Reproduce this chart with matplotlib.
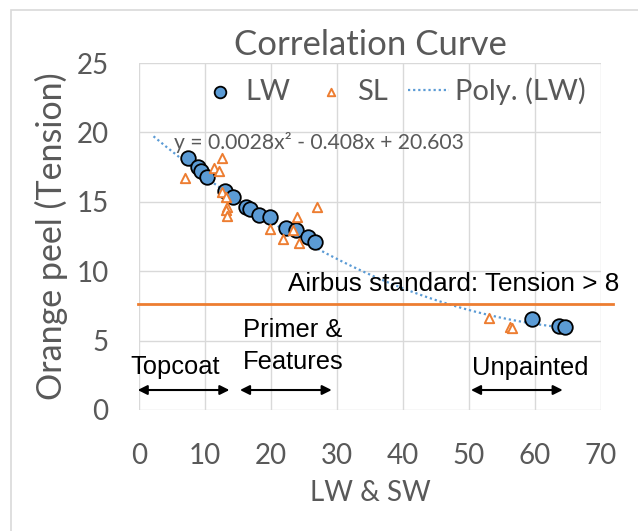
import matplotlib
matplotlib.use("Agg")
import matplotlib.pyplot as plt
import numpy as np
from matplotlib.patches import Rectangle

# ---- data ----
lw_x = [7.45, 8.87, 9.37, 10.33, 13.1, 14.26, 16.28, 16.89, 18.2, 19.8, 22.3, 23.8, 25.6, 26.7,
        59.6, 63.6, 64.5]
lw_y = [18.18, 17.53, 17.24, 16.77, 15.78, 15.37, 14.65, 14.46, 14.05, 13.88, 13.09, 12.97, 12.44, 12.1,
        6.56, 6.07, 5.96]
sl_x = [12.6, 11.4, 12.1, 7.0, 12.5, 13.2, 13.3, 13.2, 13.3, 19.8, 23.9, 23.4, 21.8, 24.2, 26.9,
        53.0, 56.2, 56.5]
sl_y = [18.18, 17.46, 17.24, 16.74, 15.68, 15.32, 14.6, 14.4, 14.0, 13.04, 13.88, 12.97, 12.34, 12.05, 14.65,
        6.6, 6.0, 5.89]
poly_coef = [0.0028, -0.408, 20.603]
trend_range = [2.2, 64.5]
standard_y = 7.64
x_ticks = [0, 10, 20, 30, 40, 50, 60, 70]
y_ticks = [0, 5, 10, 15, 20, 25]

BLUE = "#5B9BD5"
ORANGE = "#ED7D31"
GREY = "#595959"
GRID = "#D9D9D9"
CAL = ["Lato", "DejaVu Sans"]
ARIAL = ["Liberation Sans", "DejaVu Sans"]

fig = plt.figure(figsize=(6.38, 5.31), dpi=100)
# outer chart border
fig.patches.append(Rectangle((11/638, -0.05), 1.0, 1 - 10/531 + 0.05, transform=fig.transFigure,
                             fill=False, edgecolor=GRID, lw=1.2))
ax = fig.add_axes([139/638, 1 - 410/531, (601 - 139)/638, (410 - 63)/531])

ax.set_xlim(0, 70)
ax.set_ylim(0, 25)
ax.set_xticks(x_ticks)
ax.set_yticks(y_ticks)
ax.grid(True, color=GRID, lw=1.0)
ax.set_axisbelow(True)
for s in ax.spines.values():
    s.set_visible(False)
ax.tick_params(length=0, labelcolor=GREY, labelsize=20)
ax.tick_params(axis="x", pad=24)
ax.tick_params(axis="y", pad=22)
for lab in ax.get_xticklabels() + ax.get_yticklabels():
    lab.set_fontfamily(CAL)

# trend line
tx = np.linspace(trend_range[0], trend_range[1], 200)
ty = np.polyval(poly_coef, tx)
ax.plot(tx, ty, linestyle=(0, (1, 1.3)), color=BLUE, lw=1.6, label="Poly. (LW)", zorder=2)

ax.scatter(lw_x, lw_y, s=110, marker="o", facecolor=BLUE, edgecolor="black", linewidths=1.3,
           label="LW", zorder=3)
ax.scatter(sl_x, sl_y, s=45, marker="^", facecolor="white", edgecolor=ORANGE, linewidths=1.4,
           label="SL", zorder=4)

# standard line
ax.plot([-0.2, 71.8], [standard_y, standard_y], color=ORANGE, lw=2, clip_on=False, zorder=2)

# legend
h, l = ax.get_legend_handles_labels()
order = [1, 2, 0]
leg = ax.legend([h[i] for i in order], [l[i] for i in order], ncol=3, loc="center",
                bbox_to_anchor=((392.5 - 139) / 462, 1 - (91 - 63) / 347), frameon=False,
                prop={"family": CAL, "size": 21}, handlelength=1.38, handletextpad=0.2,
                columnspacing=0.7, markerscale=0.8, borderpad=0, borderaxespad=0)
for t in leg.get_texts():
    t.set_color(GREY)

ax.set_title("Correlation Curve", fontfamily=CAL, fontsize=25, color=GREY, pad=6)
ax.set_xlabel("LW & SW", fontfamily=CAL, fontsize=20, color=GREY, labelpad=8)
ax.set_ylabel("Orange peel (Tension)", fontfamily=CAL, fontsize=24.5, color=GREY, labelpad=6)

ax.text(5.25, 18.8, "y = 0.0028x² - 0.408x + 20.603", fontfamily=CAL, fontsize=15.2, color=GREY,
        ha="left", va="baseline")
ax.text(22.6, 8.57, "Airbus standard: Tension > 8", fontfamily=ARIAL, fontsize=18.8, color="black",
        ha="left", va="baseline", clip_on=False)
ax.text(15.7, 5.26, "Primer &", fontfamily=ARIAL, fontsize=18.4, ha="left", va="baseline")
ax.text(15.7, 2.95, "Features", fontfamily=ARIAL, fontsize=18.4, ha="left", va="baseline")
ax.text(5.5, 2.6, "Topcoat", fontfamily=ARIAL, fontsize=18.4, ha="center", va="baseline")
ax.text(59.3, 2.5, "Unpainted", fontfamily=ARIAL, fontsize=18.4, ha="center", va="baseline")

arrow_kw = dict(arrowstyle="<|-|>", color="black", lw=1.5, mutation_scale=14, shrinkA=0, shrinkB=0)
for x0, x1 in [(-0.2, 13.7), (15.3, 29.2), (50.3, 64.2)]:
    ax.annotate("", xy=(x1, 1.44), xytext=(x0, 1.44), arrowprops=arrow_kw, annotation_clip=False)

fig.savefig("out.png", dpi=100)
